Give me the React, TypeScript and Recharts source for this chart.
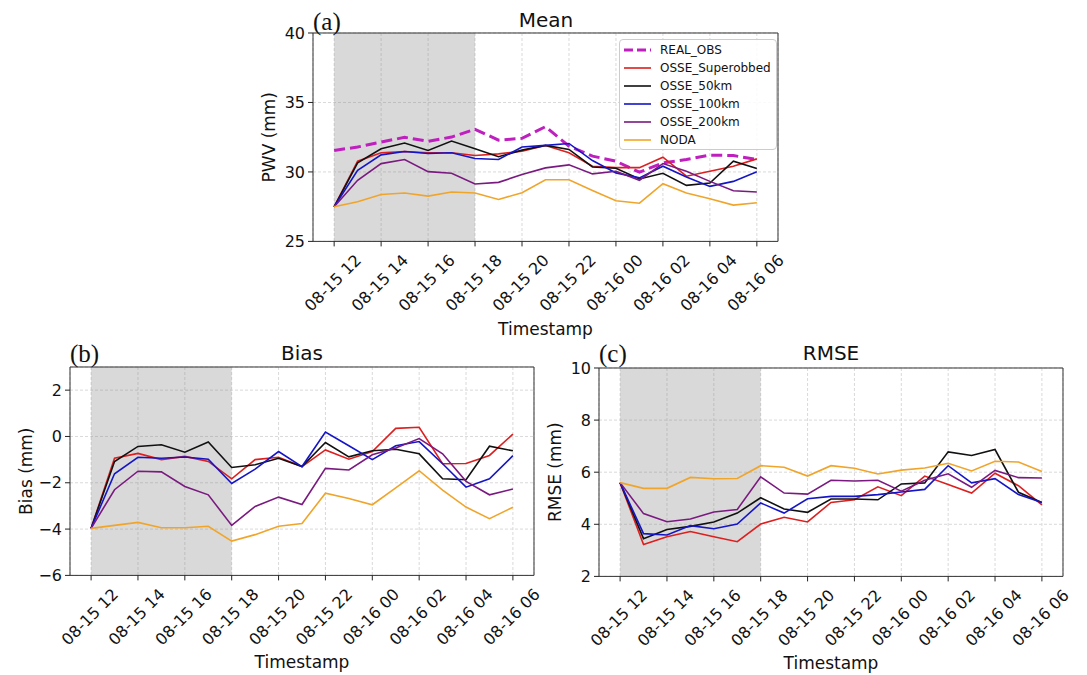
import React from "react";
import {
    LineChart,
    Line,
    XAxis,
    YAxis,
    CartesianGrid,
    ReferenceArea,
    Legend,
} from "recharts";

// hours since 08-15 12
const HOURS = [0, 1, 2, 3, 4, 5, 6, 7, 8, 9, 10, 11, 12, 13, 14, 15, 16, 17, 18];
const TICK_POS = [0, 2, 4, 6, 8, 10, 12, 14, 16, 18];
const TICK_LABELS = [
    "08-15 12", "08-15 14", "08-15 16", "08-15 18", "08-15 20",
    "08-15 22", "08-16 00", "08-16 02", "08-16 04", "08-16 06",
];

// (a) Mean PWV
const meanObs = [31.55, 31.79, 32.15, 32.49, 32.2, 32.51, 33.07, 32.29, 32.42, 33.26, 31.86, 31.14, 30.77, 29.98, 30.65, 30.89, 31.21, 31.18, 30.89];
const meanSuper = [27.49, 30.77, 31.38, 31.47, 31.38, 31.38, 31.18, 31.3, 31.5, 31.9, 31.38, 30.41, 30.31, 30.31, 31.06, 29.69, 30.05, 30.41, 30.94];
const mean50 = [27.49, 30.65, 31.67, 32.08, 31.55, 32.22, 31.67, 31.09, 31.57, 31.91, 31.62, 30.36, 30.27, 29.49, 29.9, 29.03, 29.2, 30.77, 30.24];
const mean100 = [27.49, 30.12, 31.23, 31.47, 31.33, 31.38, 30.97, 30.89, 31.79, 31.91, 32.05, 30.82, 29.93, 29.57, 30.41, 29.64, 28.96, 29.32, 30.02];
const mean200 = [27.49, 29.4, 30.6, 30.89, 30.02, 29.9, 29.13, 29.25, 29.81, 30.29, 30.51, 29.86, 30.05, 29.4, 30.6, 30.05, 29.32, 28.65, 28.55];
const meanNoda = [27.49, 27.85, 28.38, 28.48, 28.26, 28.55, 28.48, 28.02, 28.5, 29.44, 29.44, 28.67, 27.92, 27.75, 29.15, 28.48, 28.07, 27.61, 27.78];

// (b) Bias
const biasSuper = [-3.97, -0.94, -0.73, -1.0, -0.86, -1.08, -1.83, -1.0, -0.9, -1.3, -0.58, -0.98, -0.65, 0.35, 0.4, -1.18, -1.17, -0.82, 0.1];
const bias50 = [-3.97, -1.08, -0.43, -0.36, -0.68, -0.24, -1.34, -1.22, -0.94, -1.3, -0.26, -0.88, -0.62, -0.55, -0.75, -1.83, -1.87, -0.42, -0.62];
const bias100 = [-3.97, -1.61, -0.9, -0.94, -0.89, -0.98, -2.03, -1.41, -0.65, -1.3, 0.19, -0.4, -1.0, -0.4, -0.22, -1.18, -2.19, -1.83, -0.83];
const bias200 = [-3.97, -2.3, -1.5, -1.53, -2.16, -2.52, -3.84, -3.02, -2.62, -2.94, -1.38, -1.45, -0.79, -0.5, -0.09, -0.75, -1.94, -2.52, -2.27];
const biasNoda = [-3.97, -3.84, -3.71, -3.94, -3.94, -3.88, -4.52, -4.24, -3.88, -3.76, -2.45, -2.68, -2.95, -2.22, -1.48, -2.32, -3.05, -3.55, -3.06];

// (c) RMSE
const rmseSuper = [5.6, 3.22, 3.52, 3.72, 3.52, 3.33, 4.01, 4.27, 4.09, 4.84, 4.94, 5.44, 5.1, 5.85, 5.53, 5.2, 5.96, 5.48, 4.75];
const rmse50 = [5.6, 3.45, 3.8, 3.92, 4.09, 4.43, 5.02, 4.59, 4.46, 4.97, 4.97, 4.94, 5.55, 5.59, 6.78, 6.64, 6.87, 5.23, 4.84];
const rmse100 = [5.6, 3.64, 3.59, 3.95, 3.83, 4.01, 4.82, 4.43, 4.98, 5.07, 5.07, 5.14, 5.24, 5.34, 6.25, 5.59, 5.75, 5.14, 4.84];
const rmse200 = [5.6, 4.41, 4.1, 4.2, 4.47, 4.57, 5.82, 5.2, 5.16, 5.69, 5.66, 5.69, 5.27, 5.69, 5.94, 5.42, 6.07, 5.79, 5.78];
const rmseNoda = [5.6, 5.38, 5.38, 5.8, 5.75, 5.76, 6.25, 6.19, 5.85, 6.25, 6.15, 5.93, 6.08, 6.16, 6.34, 6.05, 6.42, 6.39, 6.03];

const SERIES = [
    { key: "obs", name: "REAL_OBS", color: "#bf1fbf" },
    { key: "sup", name: "OSSE_Superobbed", color: "#dd1f1f" },
    { key: "r50", name: "OSSE_50km", color: "#111111" },
    { key: "r100", name: "OSSE_100km", color: "#1515c8" },
    { key: "r200", name: "OSSE_200km", color: "#7a1a80" },
    { key: "noda", name: "NODA", color: "#f0a52a" },
];

const FONT = "'DejaVu Sans', sans-serif";

const meanData = HOURS.map((h, i) => ({
    h,
    obs: meanObs[i],
    sup: meanSuper[i],
    r50: mean50[i],
    r100: mean100[i],
    r200: mean200[i],
    noda: meanNoda[i],
}));

const biasData = HOURS.map((h, i) => ({
    h,
    sup: biasSuper[i],
    r50: bias50[i],
    r100: bias100[i],
    r200: bias200[i],
    noda: biasNoda[i],
}));

const rmseData = HOURS.map((h, i) => ({
    h,
    sup: rmseSuper[i],
    r50: rmse50[i],
    r100: rmse100[i],
    r200: rmse200[i],
    noda: rmseNoda[i],
}));

const XTick = (props: any) => {
    const { x, y, payload } = props;
    const label = TICK_LABELS[TICK_POS.indexOf(payload.value)];
    const ax = x + 28;
    const ay = y + 13;
    return (
        <text
            x={ax}
            y={ay}
            textAnchor="end"
            transform={`rotate(-45 ${ax} ${ay})`}
            fontSize={16}
            fontFamily={FONT}
            fill="#111"
        >
            {label}
        </text>
    );
};

const fmtY = (v: number) => (v < 0 ? "\u2212" + Math.abs(v) : String(v));

const LegendBox = () => (
    <div
        style={{
            width: 156,
            height: 108,
            paddingTop: 1,
            border: "1px solid #cccccc",
            borderRadius: 4,
            background: "rgba(255,255,255,0.85)",
            fontFamily: FONT,
            fontSize: 12,
            color: "#111",
        }}
    >
        {SERIES.map((s) => (
            <div key={s.key} style={{ height: 18, display: "flex", alignItems: "center" }}>
                <svg width={40} height={18} style={{ flex: "none" }}>
                    <line
                        x1={4}
                        x2={31}
                        y1={9}
                        y2={9}
                        stroke={s.color}
                        strokeWidth={s.key === "obs" ? 3 : 1.6}
                        strokeDasharray={s.key === "obs" ? "9 4" : undefined}
                    />
                </svg>
                <span style={{ lineHeight: "18px" }}>{s.name}</span>
            </div>
        ))}
    </div>
);

type PanelProps = {
    plotLeft: number;
    plotTop: number;
    plotW: number;
    plotH: number;
    xh: number;
    labelOffset: number;
    data: any[];
    keys: string[];
    yDomain: [number, number];
    yTicks: number[];
    yLabel: string;
    legend?: boolean;
};

function Panel({
    plotLeft,
    plotTop,
    plotW,
    plotH,
    xh,
    labelOffset,
    data,
    keys,
    yDomain,
    yTicks,
    yLabel,
    legend,
}: PanelProps) {
    const ml = 75;
    const mt = 20;
    return (
        <div style={{ position: "absolute", left: plotLeft - ml, top: plotTop - mt }}>
            <LineChart
                width={plotW + ml + 10}
                height={mt + plotH + xh}
                data={data}
                margin={{ top: mt, right: 10, left: 5, bottom: 0 }}
            >
                <CartesianGrid stroke="#d9d9d9" strokeDasharray="3 2" />
                <ReferenceArea x1={0} x2={6} fill="#808080" fillOpacity={0.3} stroke="none" />
                <XAxis
                    dataKey="h"
                    type="number"
                    domain={[-0.9, 18.9]}
                    ticks={TICK_POS}
                    interval={0}
                    height={xh}
                    tick={<XTick />}
                    tickSize={5}
                    tickLine={{ stroke: "#222" }}
                    axisLine={false}
                    label={{
                        value: "Timestamp",
                        position: "insideBottom",
                        offset: labelOffset,
                        style: { fontSize: 17, fontFamily: FONT, fill: "#111" },
                    }}
                />
                <YAxis
                    type="number"
                    domain={yDomain}
                    ticks={yTicks}
                    interval={0}
                    width={70}
                    tickSize={5}
                    tickMargin={3}
                    tickLine={{ stroke: "#222" }}
                    axisLine={false}
                    tickFormatter={fmtY}
                    tick={{ fontSize: 16, fontFamily: FONT, fill: "#111" }}
                    label={{
                        value: yLabel,
                        angle: -90,
                        position: "center",
                        dx: -9,
                        style: { fontSize: 17, fontFamily: FONT, fill: "#111" },
                    }}
                />
                {SERIES.filter((s) => keys.includes(s.key)).map((s) => (
                    <Line
                        key={s.key}
                        type="linear"
                        dataKey={s.key}
                        name={s.name}
                        stroke={s.color}
                        strokeWidth={s.key === "obs" ? 3 : 1.6}
                        strokeDasharray={s.key === "obs" ? "11 5" : undefined}
                        dot={false}
                        activeDot={false}
                        isAnimationActive={false}
                    />
                ))}
                <ReferenceArea
                    x1={-0.9}
                    x2={18.9}
                    y1={yDomain[0]}
                    y2={yDomain[1]}
                    fill="none"
                    stroke="#333"
                    strokeWidth={1}
                />
                {legend && (
                    <Legend
                        layout="vertical"
                        align="center"
                        verticalAlign="middle"
                        content={<LegendBox />}
                        wrapperStyle={{ left: 619 - (plotLeft - ml), top: 39.5 - (plotTop - mt), width: 158 }}
                    />
                )}
            </LineChart>
        </div>
    );
}

export default function App() {
    return (
        <div
            style={{
                position: "absolute",
                left: 0,
                top: 0,
                width: 1087,
                height: 675,
                overflow: "hidden",
                background: "#fff",
            }}
        >
            <Panel
                plotLeft={313.3}
                plotTop={33.3}
                plotW={465}
                plotH={208.4}
                xh={100}
                labelOffset={6}
                data={meanData}
                keys={["obs", "sup", "r50", "r100", "r200", "noda"]}
                yDomain={[25, 40]}
                yTicks={[25, 30, 35, 40]}
                yLabel="PWV (mm)"
                legend
            />
            <Panel
                plotLeft={70}
                plotTop={367.3}
                plotW={464}
                plotH={208.4}
                xh={96}
                labelOffset={3}
                data={biasData}
                keys={["sup", "r50", "r100", "r200", "noda"]}
                yDomain={[-6, 3]}
                yTicks={[-6, -4, -2, 0, 2]}
                yLabel="Bias (mm)"
            />
            <Panel
                plotLeft={599.3}
                plotTop={368.3}
                plotW={464}
                plotH={208.4}
                xh={96}
                labelOffset={3}
                data={rmseData}
                keys={["sup", "r50", "r100", "r200", "noda"]}
                yDomain={[2, 10]}
                yTicks={[2, 4, 6, 8, 10]}
                yLabel="RMSE (mm)"
            />
            <svg
                width={1087}
                height={675}
                style={{ position: "absolute", left: 0, top: 0, pointerEvents: "none" }}
            >
                <text x={313} y={30} fontSize={25} fontFamily="'Liberation Serif', serif" fill="#111">(a)</text>
                <text x={546} y={27} fontSize={20} fontFamily={FONT} textAnchor="middle" fill="#111">Mean</text>
                <text x={70} y={362} fontSize={25} fontFamily="'Liberation Serif', serif" fill="#111">(b)</text>
                <text x={302} y={360} fontSize={20} fontFamily={FONT} textAnchor="middle" fill="#111">Bias</text>
                <text x={599} y={362} fontSize={25} fontFamily="'Liberation Serif', serif" fill="#111">(c)</text>
                <text x={831} y={360} fontSize={20} fontFamily={FONT} textAnchor="middle" fill="#111">RMSE</text>
            </svg>
        </div>
    );
}
